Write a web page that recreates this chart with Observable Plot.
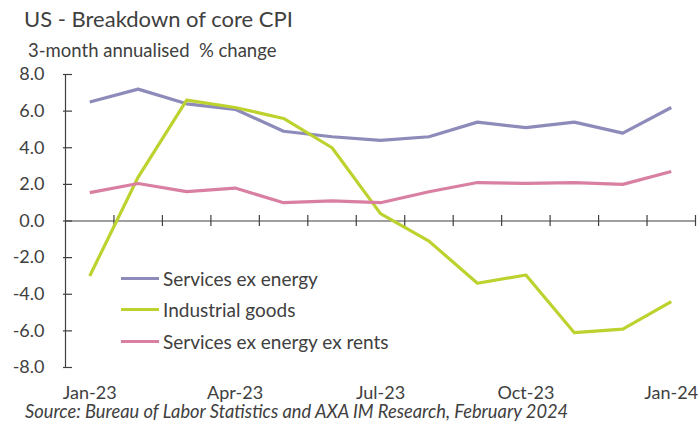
<!DOCTYPE html>
<html>
<head>
<meta charset="utf-8">
<script src="https://cdn.jsdelivr.net/npm/d3@7"></script>
<script src="https://cdn.jsdelivr.net/npm/@observablehq/plot@0.6"></script>
<style>
  html, body { margin: 0; padding: 0; background: #fff; }
  #wrap { position: relative; width: 698px; height: 426px; font-family: Lato, "Open Sans", sans-serif; color: #404040; overflow: hidden; }
  #wrap svg { position: absolute; left: 0; top: 0; }
  .t { position: absolute; white-space: pre; line-height: 1; }
  .leg { position: absolute; display: flex; align-items: center; white-space: pre; font-size: 19px; line-height: 1; }
  .leg span.sw { display: inline-block; width: 38px; height: 3px; margin-right: 4px; }
</style>
</head>
<body>
<div id="wrap"></div>
<script>
const title = "US - Breakdown of core CPI";
const subtitle = "3-month annualised  % change";
const source = "Source: Bureau of Labor Statistics and AXA IM Research, February 2024";

const months = ["Jan-23","Feb-23","Mar-23","Apr-23","May-23","Jun-23","Jul-23","Aug-23","Sep-23","Oct-23","Nov-23","Dec-23","Jan-24"];
const labelledMonths = ["Jan-23","Apr-23","Jul-23","Oct-23","Jan-24"];
const yTicks = [-8, -6, -4, -2, 0, 2, 4, 6, 8];

const seriesNames = ["Services ex energy", "Industrial goods", "Services ex energy ex rents"];
const seriesColors = ["#8C8BBA", "#BDD22E", "#D97FA1"];

const servicesExEnergy = [6.5, 7.2, 6.4, 6.1, 4.9, 4.6, 4.4, 4.6, 5.4, 5.1, 5.4, 4.8, 6.2];
const industrialGoods = [-3.0, 2.4, 6.6, 6.2, 5.6, 4.0, 0.4, -1.1, -3.4, -2.95, -6.1, -5.9, -4.4];
const servicesExEnergyExRents = [1.55, 2.05, 1.6, 1.8, 1.0, 1.1, 1.0, 1.6, 2.1, 2.05, 2.1, 2.0, 2.7];

const seriesValues = [servicesExEnergy, industrialGoods, servicesExEnergyExRents];
const data = seriesNames.flatMap((name, s) => seriesValues[s].map((v, i) => ({series: name, i, month: months[i], value: v})));

const xDomain = [-0.5, months.length - 0.5];
const boundaries = d3.range(months.length + 1).map(k => k - 0.5);
const labelIdx = labelledMonths.map(m => months.indexOf(m));

const chart = Plot.plot({
  width: 698,
  height: 426,
  marginLeft: 65,
  marginRight: 3,
  marginTop: 74,
  marginBottom: 59,
  style: { fontFamily: "Lato, 'Open Sans', sans-serif", fontSize: "18px", color: "#404040", background: "transparent" },
  x: { type: "linear", domain: xDomain, axis: null, label: null },
  y: { domain: [-8, 8], axis: null, label: null },
  color: { domain: seriesNames, range: seriesColors },
  marks: [
    Plot.axisY({ ticks: yTicks, tickSize: 0, tickPadding: 21, tickFormat: d => d.toFixed(1), fill: "#404040", fontSize: 18, label: null }),
    Plot.axisX({ ticks: labelIdx, tickSize: 0, tickPadding: 19, tickFormat: i => months[i], fill: "#404040", fontSize: 18, label: null }),
    Plot.ruleX([xDomain[0]], { y1: -8, y2: 8, stroke: "#404040", strokeWidth: 1.2 }),
    Plot.ruleY(yTicks, { y: d => d, x1: xDomain[0], x2: xDomain[0], insetLeft: -2, insetRight: -7, stroke: "#404040", strokeWidth: 1.2 }),
    Plot.ruleY([0], { x1: xDomain[0], x2: xDomain[1], stroke: "#404040", strokeWidth: 1.2 }),
    Plot.ruleX(boundaries.slice(1), { x: d => d, y1: 0, y2: 0, insetTop: -5.5, insetBottom: -5.5, stroke: "#404040", strokeWidth: 1.2 }),
    Plot.line(data, { x: "i", y: "value", z: "series", stroke: "series", strokeWidth: 3.2, strokeLinejoin: "round", strokeLinecap: "butt" })
  ]
});

const wrap = document.getElementById("wrap");
wrap.appendChild(chart);

function addText(txt, left, top, size, extra) {
  const d = document.createElement("div");
  d.className = "t";
  d.textContent = txt;
  d.style.left = left + "px";
  d.style.top = top + "px";
  d.style.fontSize = size + "px";
  if (extra) Object.assign(d.style, extra);
  wrap.appendChild(d);
}
addText(title, 24, 8, 22);
addText(subtitle, 28, 41, 18.5);
addText(source, 25, 402, 18.3, { fontStyle: "italic" });

const legTops = [269, 300, 331.5];
seriesNames.forEach((name, s) => {
  const row = document.createElement("div");
  row.className = "leg";
  row.style.left = "121px";
  row.style.top = legTops[s] + "px";
  row.style.height = "19px";
  const sw = document.createElement("span");
  sw.className = "sw";
  sw.style.background = seriesColors[s];
  const tx = document.createElement("span");
  tx.textContent = name;
  row.appendChild(sw);
  row.appendChild(tx);
  wrap.appendChild(row);
});
</script>
</body>
</html>
